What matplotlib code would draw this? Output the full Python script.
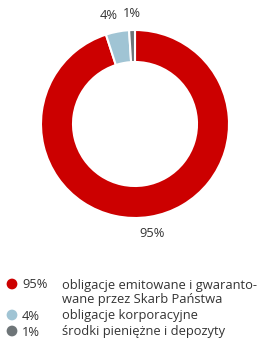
import matplotlib
matplotlib.use("Agg")
import matplotlib.pyplot as plt

plt.rcParams['font.family'] = ['Open Sans', 'DejaVu Sans']

shares = [95, 4, 1]
pct_labels = ["95%", "4%", "1%"]
legend_texts = [
    "obligacje emitowane i gwaranto-\nwane przez Skarb Państwa",
    "obligacje korporacyjne",
    "środki pieniężne i depozyty",
]
colors = ["#cc0000", "#a0c4d4", "#6e7578"]

W, H = 262, 342
fig = plt.figure(figsize=(W / 100, H / 100), dpi=100)
ax = fig.add_axes([0, 0, 1, 1])

cx, cy, r = 135, H - 124, 94
wedges, texts = ax.pie(
    shares, colors=colors, labels=pct_labels, startangle=90, counterclock=False,
    center=(cx, cy), radius=r, labeldistance=1.18,
    wedgeprops=dict(width=32, edgecolor="white", linewidth=1.5),
    textprops=dict(fontsize=9.3, color="#333333"),
)
for t in texts:
    t.set_ha("center")
    t.set_va("center")
# the two small slices sit side by side at the top; keep their labels apart
texts[1].set_ha("right")
texts[1].set_x(texts[1].get_position()[0] + 3)

ax.set_xlim(0, W)
ax.set_ylim(0, H)
ax.set_aspect("equal")
ax.axis("off")

# legend: dot, percentage, description
row_y = [284, 315, 331]
line_step = 15
for yy, col, pct, txt in zip(row_y, colors, pct_labels, legend_texts):
    ax.scatter([12], [H - yy], s=60, color=col, edgecolors="none")
    base = H - yy - 4.5
    ax.text(22, base, pct, fontsize=9.3, color="#333333", va="baseline", ha="left")
    for i, line in enumerate(txt.split("\n")):
        ax.text(62, base - i * line_step, line, fontsize=9.3, color="#333333",
                va="baseline", ha="left")

fig.savefig("out.png", dpi=100)
